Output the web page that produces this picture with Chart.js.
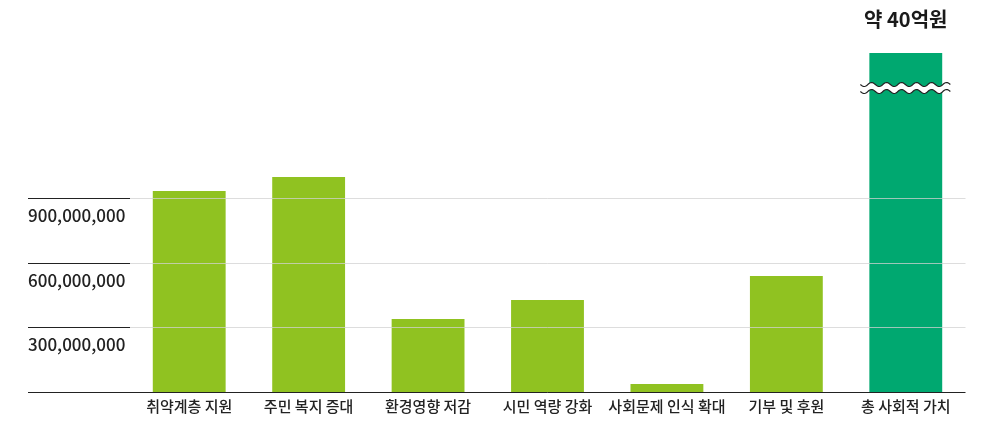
<!DOCTYPE html>
<html lang="ko">
<head>
<meta charset="utf-8">
<script src="https://cdn.jsdelivr.net/npm/chart.js@4/dist/chart.umd.min.js"></script>
<style>
  html, body { margin: 0; padding: 0; background: #fff; }
  #chart { display: block; }
</style>
</head>
<body>
<canvas id="chart" width="982" height="421"></canvas>
<script>
// 항목별 사회적 가치 (원)
const categories = ['취약계층 지원', '주민 복지 증대', '환경영향 저감', '시민 역량 강화', '사회문제 인식 확대', '기부 및 후원', '총 사회적 가치'];
const values = [935000000, 1000000000, 342000000, 430000000, 40000000, 541000000, 4000000000];
const barColors = ['#90c221', '#90c221', '#90c221', '#90c221', '#90c221', '#90c221', '#00a870'];
const yTicks = [0, 300000000, 600000000, 900000000];
const yMax = 1575000000;      // axis is cut here, the total bar runs past it
const topLabels = ['', '', '', '', '', '', '약 40억원'];

const FONT = '"Noto Sans CJK KR", "Noto Sans", sans-serif';

// label above bar + wavy break mark on bars taller than the axis
const breakPlugin = {
  id: 'breakMark',
  afterDraw(chart) {
    const ctx = chart.ctx;
    const meta = chart.getDatasetMeta(0);
    meta.data.forEach(function(bar, i) {
      if (topLabels[i]) {
        ctx.save();
        ctx.strokeStyle = '#b8b8b8';
        ctx.lineWidth = 1;
        ctx.setLineDash([3, 3]);
        ctx.beginPath();
        ctx.moveTo(Math.round(bar.x) + 0.5, bar.y - 15);
        ctx.lineTo(Math.round(bar.x) + 0.5, bar.y);
        ctx.stroke();
        ctx.setLineDash([]);
        ctx.fillStyle = '#1a1a1a';
        ctx.font = 'bold 20px ' + FONT;
        ctx.textAlign = 'center';
        ctx.textBaseline = 'middle';
        ctx.fillText(topLabels[i], bar.x, 19);
        ctx.restore();
      }
      if (values[i] > yMax) {
        const y = chart.chartArea.top + 35;
        const x0 = bar.x - bar.width / 2 - 9;
        const x1 = bar.x + bar.width / 2 + 9;
        const wave = function(off) {
          const pts = [];
          for (let x = x0; x <= x1; x += 1) {
            pts.push([x, y + off + 2 * Math.sin((x - x0) / 15 * Math.PI * 2)]);
          }
          return pts;
        };
        const a = wave(-3.5), b = wave(3.5);
        ctx.save();
        ctx.fillStyle = '#fff';
        ctx.beginPath();
        a.forEach(function(p, k) { k ? ctx.lineTo(p[0], p[1]) : ctx.moveTo(p[0], p[1]); });
        b.slice().reverse().forEach(function(p) { ctx.lineTo(p[0], p[1]); });
        ctx.closePath();
        ctx.fill();
        ctx.strokeStyle = '#222';
        ctx.lineWidth = 1.2;
        [a, b].forEach(function(line) {
          ctx.beginPath();
          line.forEach(function(p, k) { k ? ctx.lineTo(p[0], p[1]) : ctx.moveTo(p[0], p[1]); });
          ctx.stroke();
        });
        ctx.restore();
      }
    });
  }
};

new Chart(document.getElementById('chart').getContext('2d'), {
  type: 'bar',
  data: {
    labels: categories,
    datasets: [{
      data: values,
      backgroundColor: barColors,
      borderWidth: 0,
      barPercentage: 0.61,
      categoryPercentage: 1
    }]
  },
  options: {
    responsive: false,
    animation: false,
    devicePixelRatio: 1,
    layout: { padding: { top: 53, left: 28, right: 16.5, bottom: 3.5 } },
    plugins: {
      legend: { display: false },
      tooltip: { enabled: false }
    },
    scales: {
      x: {
        afterFit: function(scale) { scale.height = 24.8; },
        grid: { display: false },
        border: { display: false },
        ticks: {
          color: '#222',
          padding: -3,
          autoSkip: false,
          font: { family: FONT, size: 15, weight: '500' },
          maxRotation: 0
        }
      },
      y: {
        min: 0,
        max: yMax,
        afterBuildTicks: function(scale) {
          scale.ticks = yTicks.map(function(v) { return { value: v }; });
        },
        afterFit: function(scale) { scale.width = 101.5; },
        border: { display: false },
        grid: {
          z: 1,
          tickLength: 101.5,
          tickColor: '#222',
          color: function(c) { return c.tick && c.tick.value === 0 ? '#222' : 'rgba(210,210,210,0.75)'; },
          lineWidth: 1
        },
        ticks: {
          crossAlign: 'far',
          labelOffset: 17,
          color: '#222',
          font: { family: FONT, size: 17, weight: '500' },
          callback: function(v) { return v === 0 ? '' : v.toLocaleString('en-US'); }
        }
      }
    }
  },
  plugins: [breakPlugin]
});
</script>
</body>
</html>
